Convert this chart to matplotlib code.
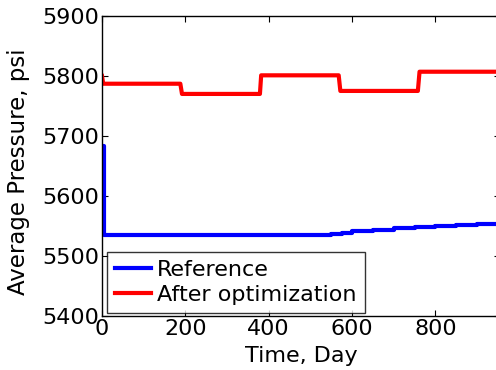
import numpy as np
import matplotlib
matplotlib.use("Agg")
import matplotlib.pyplot as plt

plt.rcParams["font.family"] = ["DejaVu Sans"]

# reference run: average field pressure (psi) vs time (days)
ref_days = [3, 4, 525, 550, 575, 600, 650, 700, 750, 800, 850, 900, 955]
ref_psi = [5684, 5535, 5535, 5537, 5539, 5541, 5544, 5547, 5549, 5550, 5552, 5554, 5557]

# optimized run: piecewise-constant pressure between control updates
opt_days = [0, 3, 188, 192, 379, 382, 568, 572, 758, 762, 955]
opt_psi = [5800, 5787, 5787, 5770, 5770, 5801, 5801, 5775, 5775, 5807, 5807]

fig = plt.figure(figsize=(4.96, 3.70), dpi=100)
ax = fig.add_axes([0.2056, 0.146, 1.008 - 0.2056, 0.957 - 0.146])

ax.plot(ref_days, ref_psi, color="#0000ff", lw=3.0, drawstyle="steps-post",
        label="Reference")
ax.plot(opt_days, opt_psi, color="#ff0000", lw=3.0, label="After optimization")

ax.set_xlim(0, 955)
ax.set_ylim(5400, 5900)
ax.set_xticks([0, 200, 400, 600, 800])
ax.set_yticks([5400, 5500, 5600, 5700, 5800, 5900])
ax.tick_params(direction="in", length=4, width=0.8, top=True, right=True,
               labelsize=16, pad=2)
for s in ax.spines.values():
    s.set_linewidth(1.0)

ax.set_xlabel("Time, Day", fontsize=16, labelpad=5)
ax.set_ylabel("Average Pressure, psi", fontsize=16.5)
ax.yaxis.set_label_coords(-0.18, 0.48)

leg = ax.legend(loc="lower left", fontsize=16, frameon=True, fancybox=False,
                borderpad=0.35, labelspacing=0.22, handlelength=1.6,
                handletextpad=0.3, borderaxespad=0.15,
                bbox_to_anchor=(0.005, 0.0))
leg.get_frame().set_edgecolor("black")
leg.get_frame().set_linewidth(1.0)

fig.savefig("out.png", dpi=100)
